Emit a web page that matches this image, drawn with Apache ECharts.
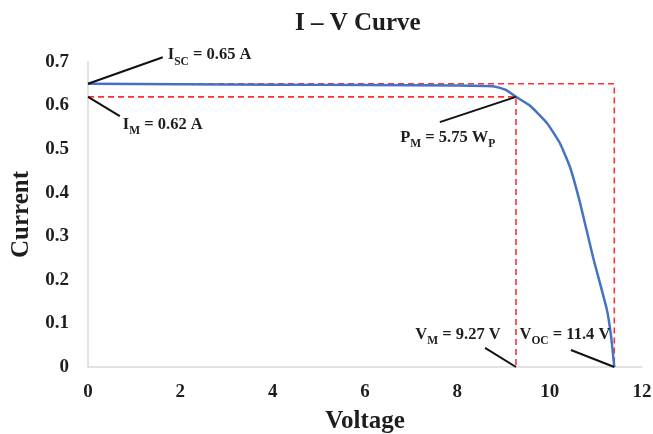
<!DOCTYPE html>
<html>
<head>
<meta charset="utf-8">
<script src="https://cdn.jsdelivr.net/npm/echarts@6/dist/echarts.min.js"></script>
<style>
  html, body { margin: 0; padding: 0; background: #fff; }
  #main { width: 653px; height: 434px; }
</style>
</head>
<body>
<div id="main"></div>
<script>
// I-V curve points [voltage, current]
var ivCurve = [
  [0, 0.65], [2, 0.649], [4, 0.648], [6, 0.647], [8, 0.646], [8.8, 0.644],
  [9.05, 0.636], [9.27, 0.62], [9.57, 0.6], [9.94, 0.56], [10.22, 0.514],
  [10.44, 0.459], [10.66, 0.376], [10.94, 0.252], [11.24, 0.131], [11.33, 0.071],
  [11.4, 0]
];

// key values
var isc = 0.65, im = 0.62, vm = 9.27, voc = 11.4;

// dashed guide lines
var guideOuter = [[0, isc], [voc, isc], [voc, 0]];
var guideInner = [[0, im], [vm, im], [vm, 0]];

// annotation leaders: [from point, to label anchor]
var leaderIsc = [[0, isc], [1.62, 0.711]];
var leaderIm = [[0, im], [0.69, 0.576]];
var leaderPm = [[vm, im], [7.62, 0.562]];
var leaderVm = [[vm, 0], [8.6, 0.044]];
var leaderVoc = [[voc, 0], [10.46, 0.039]];

var xTicks = [0, 2, 4, 6, 8, 10, 12];
var yTicks = [0, 0.1, 0.2, 0.3, 0.4, 0.5, 0.6, 0.7];

var serif = "'Liberation Serif', 'DejaVu Serif', serif";
var ink = "#1e1e1e";

var richStyle = {
  a: { fontFamily: serif, fontWeight: "bold", fontSize: 16.5, color: ink, padding: [0, 0, 4, 0], verticalAlign: "bottom" },
  s: { fontFamily: serif, fontWeight: "bold", fontSize: 11.5, color: ink, verticalAlign: "bottom" },
};

function leader(points) {
  return {
    type: "line",
    data: points,
    symbol: "none",
    clip: false,
    silent: true,
    lineStyle: { color: "#111", width: 2 },
    z: 4,
  };
}

function note(point, text, position, offset) {
  return {
    type: "scatter",
    data: [point],
    symbolSize: 0,
    clip: false,
    silent: true,
    itemStyle: { color: ink, opacity: 1 },
    label: {
      show: true,
      position: position,
      offset: offset,
      distance: 3,
      color: ink,
      opacity: 1,
      textBorderWidth: 0,
      formatter: text,
      rich: richStyle,
    },
    z: 5,
  };
}

function guide(points) {
  return {
    type: "line",
    data: points,
    symbol: "none",
    silent: true,
    lineStyle: { color: "#ff3030", width: 1.6, type: [6, 4] },
    z: 2,
  };
}

var chart = echarts.init(document.getElementById("main"));

var option = {
  animation: false,
  backgroundColor: "#fff",
  title: {
    text: "I – V Curve",
    left: 290,
    top: 6,
    textStyle: { fontFamily: serif, fontWeight: "bold", fontSize: 25, color: ink },
  },
  grid: { left: 88, right: 11, top: 62, bottom: 67, outerBoundsMode: "none" },
  xAxis: {
    type: "value",
    min: xTicks[0],
    max: xTicks[xTicks.length - 1],
    interval: xTicks[1] - xTicks[0],
    name: "Voltage",
    nameLocation: "middle",
    nameGap: 42,
    nameTextStyle: { fontFamily: serif, fontWeight: "bold", fontSize: 25, color: ink },
    axisLine: { show: true, lineStyle: { color: "#d9d9d9", width: 1.5 } },
    axisTick: { show: false },
    splitLine: { show: false },
    axisLabel: { fontFamily: serif, fontWeight: "bold", fontSize: 19, color: ink, margin: 16 },
  },
  yAxis: {
    type: "value",
    min: yTicks[0],
    max: yTicks[yTicks.length - 1],
    interval: 0.1,
    name: "Current",
    nameLocation: "middle",
    nameRotate: 90,
    nameGap: 52,
    nameTextStyle: { fontFamily: serif, fontWeight: "bold", fontSize: 25, color: ink },
    axisLine: { show: true, lineStyle: { color: "#d9d9d9", width: 1.5 } },
    axisTick: { show: false },
    splitLine: { show: false },
    axisLabel: {
      fontFamily: serif, fontWeight: "bold", fontSize: 19, color: ink, margin: 19,
      formatter: function (v) { return +v.toFixed(1) + ""; },
    },
  },
  series: [
    guide(guideOuter),
    guide(guideInner),
    {
      type: "line",
      data: ivCurve,
      symbol: "none",
      smooth: 0.15,
      silent: true,
      lineStyle: { color: "#4472c4", width: 2.5 },
      z: 3,
    },
    leader(leaderIsc),
    leader(leaderIm),
    leader(leaderPm),
    leader(leaderVm),
    leader(leaderVoc),
    note(leaderIsc[1], "{a|I}{s|SC}{a| = 0.65 A}", "right", [2, 0]),
    note(leaderIm[1], "{a|I}{s|M}{a| = 0.62 A}", "right", [0, 11]),
    note(leaderPm[1], "{a|P}{s|M}{a| = 5.75 W}{s|P}", "bottom", [8, 4]),
    note(leaderVm[1], "{a|V}{s|M}{a| = 9.27 V}", "top", [-27, 2]),
    note(leaderVoc[1], "{a|V}{s|OC}{a| = 11.4 V}", "top", [-6, 0]),
  ],
};

chart.setOption(option);
</script>
</body>
</html>
